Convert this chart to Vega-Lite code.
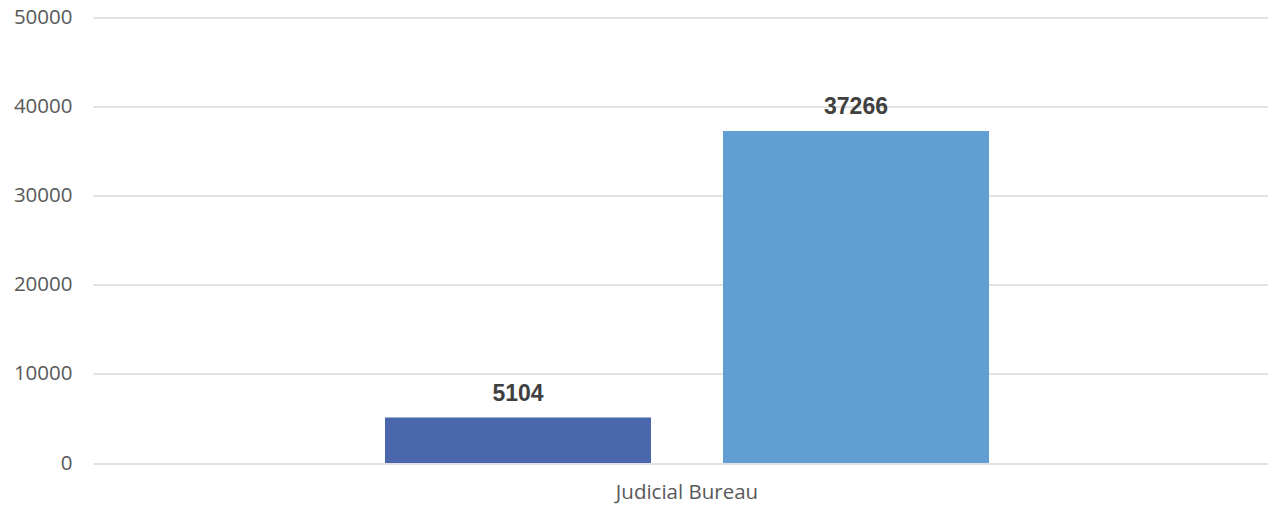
{
  "$schema": "https://vega.github.io/schema/vega-lite/v6.json",
  "width": 1188,
  "height": 445.5,
  "autosize": {"type": "none"},
  "padding": {"left": 93, "top": 17.5, "right": 0, "bottom": 43},
  "background": "white",
  "config": {"view": {"stroke": null}},
  "data": {
    "values": [
      {"category": "Judicial Bureau", "series": "A", "value": 5104},
      {"category": "Judicial Bureau", "series": "B", "value": 37266}
    ]
  },
  "encoding": {
    "x": {
      "field": "category",
      "type": "nominal",
      "scale": {"paddingInner": 0, "paddingOuter": 0.4834},
      "axis": {
        "title": null,
        "domain": false,
        "ticks": false,
        "labelAngle": 0,
        "labelFont": "Open Sans",
        "labelFontSize": 20.5,
        "labelColor": "#595959",
        "labelPadding": 19
      }
    },
    "xOffset": {
      "field": "series",
      "type": "nominal",
      "scale": {"paddingInner": 0.213, "paddingOuter": 0}
    },
    "y": {
      "field": "value",
      "type": "quantitative",
      "scale": {"domain": [0, 50000], "nice": false},
      "axis": {
        "title": null,
        "values": [0, 10000, 20000, 30000, 40000, 50000],
        "format": "d",
        "domain": false,
        "ticks": false,
        "labelFont": "Open Sans",
        "labelFontSize": 20.5,
        "labelColor": "#595959",
        "labelPadding": 21,
        "gridColor": "#d9d9d9",
        "gridWidth": 1.5
      }
    }
  },
  "layer": [
    {
      "mark": {"type": "bar"},
      "encoding": {
        "color": {
          "field": "series",
          "type": "nominal",
          "scale": {"domain": ["A", "B"], "range": ["#4a67ae", "#619ed2"]},
          "legend": null
        }
      }
    },
    {
      "mark": {
        "type": "text",
        "baseline": "alphabetic",
        "dy": -17,
        "font": "Liberation Sans",
        "fontWeight": "bold",
        "fontSize": 23,
        "fill": "#404040"
      },
      "encoding": {
        "text": {"field": "value", "type": "quantitative", "format": "d"}
      }
    }
  ]
}
